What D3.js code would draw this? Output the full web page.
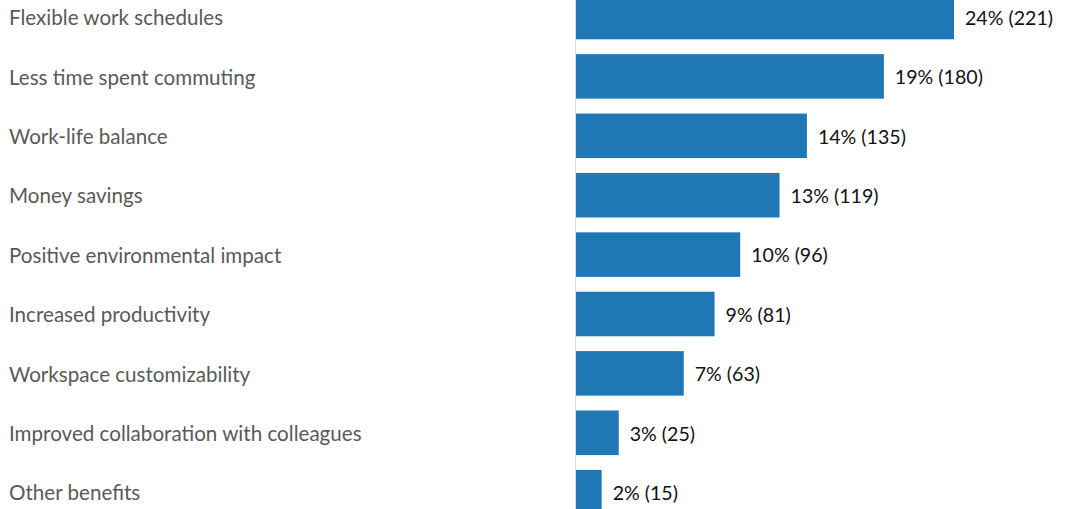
<!DOCTYPE html>
<html>
<head>
<meta charset="utf-8">
<script src="https://cdn.jsdelivr.net/npm/d3@7"></script>
<style>
  html, body { margin: 0; padding: 0; background: #fff; }
  svg { display: block; }
</style>
</head>
<body>
<svg id="chart" width="1087" height="509"></svg>
<script>
// Benefits of remote work — responses per benefit
const categories = [
  "Flexible work schedules",
  "Less time spent commuting",
  "Work-life balance",
  "Money savings",
  "Positive environmental impact",
  "Increased productivity",
  "Workspace customizability",
  "Improved collaboration with colleagues",
  "Other benefits"
];
const counts = [221, 180, 135, 119, 96, 81, 63, 25, 15];
const percents = [24, 19, 14, 13, 10, 9, 7, 3, 2];

const width = 1087, height = 509;
const svg = d3.select("#chart");
const font = "Lato, 'Open Sans', sans-serif";

const step = 59.4;
const y = d3.scaleBand()
  .domain(categories)
  .range([17 - step / 2, 17 + step * (categories.length - 0.5)])
  .paddingInner(0.25)
  .paddingOuter(0.125);

const x = d3.scaleLinear()
  .domain([0, 221])
  .range([576, 954]);

// bars
svg.append("g")
  .selectAll("rect")
  .data(categories)
  .join("rect")
  .attr("x", x(0))
  .attr("y", d => y(d))
  .attr("width", (d, i) => x(counts[i]) - x(0))
  .attr("height", y.bandwidth())
  .attr("fill", "#1f77b4");

// category axis on the left edge of the bars
const axis = svg.append("g")
  .attr("transform", `translate(${x(0) - 0.5},0)`)
  .call(d3.axisLeft(y).tickSize(0).tickSizeOuter(0));
axis.select(".domain").attr("stroke", "#d9d9d9").attr("stroke-width", 1)
  .attr("d", `M0,0V${height}`);
axis.selectAll(".tick text")
  .attr("x", -(x(0) - 0.5) + 9)
  .attr("text-anchor", "start")
  .attr("dy", "0.4em")
  .attr("fill", "#595959")
  .style("font-family", font)
  .style("font-size", "20.6px");

// value labels
svg.append("g")
  .selectAll("text")
  .data(categories)
  .join("text")
  .attr("x", (d, i) => x(counts[i]) + 11)
  .attr("y", d => y(d) + y.bandwidth() / 2)
  .attr("dy", "0.4em")
  .attr("fill", "#111")
  .style("font-family", font)
  .style("font-size", "19.6px")
  .text((d, i) => `${percents[i]}% (${counts[i]})`);
</script>
</body>
</html>
